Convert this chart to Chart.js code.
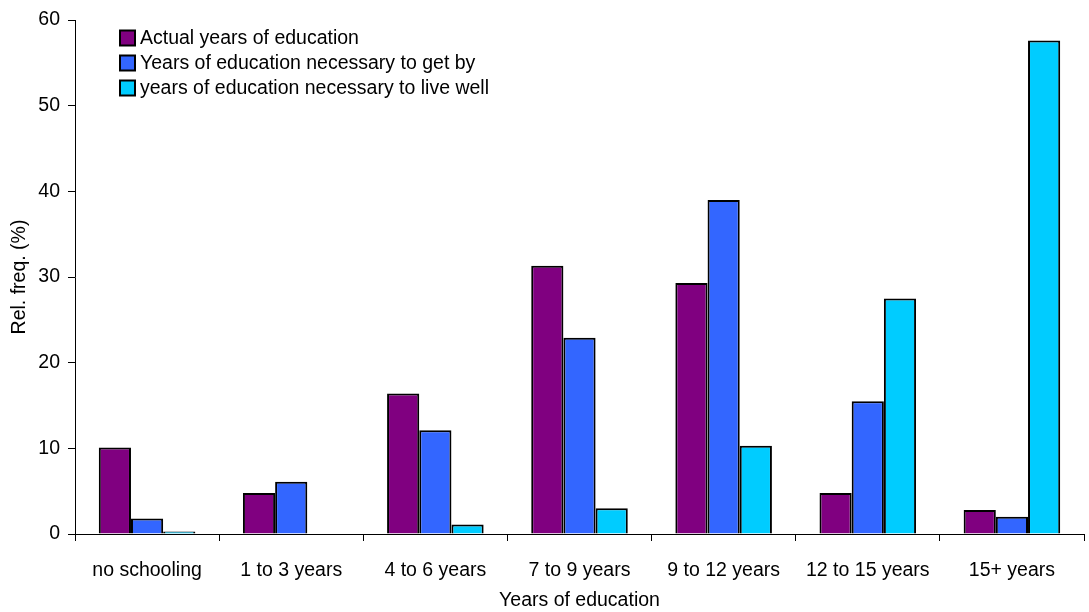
<!DOCTYPE html>
<html>
<head>
<meta charset="utf-8">
<script src="https://cdn.jsdelivr.net/npm/chart.js@4/dist/chart.umd.min.js"></script>
<style>
  html, body { margin: 0; padding: 0; background: #fff; }
  #wrap { width: 1089px; height: 612px; }
</style>
</head>
<body>
<div id="wrap"><canvas id="edu-chart"></canvas></div>
<script>
const categories = ["no schooling", "1 to 3 years", "4 to 6 years", "7 to 9 years", "9 to 12 years", "12 to 15 years", "15+ years"];
const actualYears = [10.1, 4.8, 16.4, 31.3, 29.3, 4.8, 2.8];
const getByYears = [1.8, 6.1, 12.1, 22.9, 39.0, 15.5, 2.0];
const liveWellYears = [0.3, 0.05, 1.1, 3.0, 10.3, 27.5, 57.6];
const yTicks = [0, 10, 20, 30, 40, 50, 60];

const fontFamily = "'Liberation Sans Narrow', 'Liberation Sans', Arial, sans-serif";
const fontSize = 19.5;

// legend drawn inside the plot, top-left, like the original
const innerLegend = {
    id: 'innerLegend',
    afterDraw(chart) {
        const ctx = chart.ctx;
        const x = chart.chartArea.left + 45;
        let y = 38;
        ctx.save();
        ctx.font = fontSize + "px " + fontFamily;
        ctx.textBaseline = 'middle';
        chart.data.datasets.forEach(ds => {
            ctx.fillStyle = ds.backgroundColor;
            ctx.fillRect(x, y - 7.5, 15, 15);
            ctx.strokeStyle = '#000';
            ctx.lineWidth = 2;
            ctx.strokeRect(x, y - 7.5, 15, 15);
            ctx.fillStyle = '#000';
            ctx.fillText(ds.label, x + 20, y + 1);
            y += 25;
        });
        ctx.restore();
    }
};

let eduData = {
    labels: categories,
    datasets: [{
        label: 'Actual years of education',
        data: actualYears,
        backgroundColor: '#800080',
        borderColor: '#000',
        borderWidth: 2
    }, {
        label: 'Years of education necessary to get by',
        data: getByYears,
        backgroundColor: '#3366FF',
        borderColor: '#000',
        borderWidth: 2
    }, {
        label: 'years of education necessary to live well',
        data: liveWellYears,
        backgroundColor: '#00CCFF',
        borderColor: '#000',
        borderWidth: 2
    }]
};

let eduOptions = {
    responsive: true,
    maintainAspectRatio: false,
    animation: { duration: 0 },
    layout: { padding: { top: 20, right: 5, left: 0, bottom: 0 } },
    datasets: {
        bar: { categoryPercentage: 0.67, barPercentage: 1.0 }
    },
    plugins: {
        legend: { display: false },
        tooltip: { enabled: false }
    },
    scales: {
        x: {
            grid: {
                offset: true,
                drawOnChartArea: false,
                color: '#000',
                tickLength: 7,
                tickColor: '#000'
            },
            border: { color: '#000', width: 1 },
            ticks: {
                color: '#000',
                font: { family: fontFamily, size: fontSize },
                padding: 18,
                maxRotation: 0
            },
            title: {
                display: true,
                text: 'Years of education',
                color: '#000',
                font: { family: fontFamily, size: fontSize },
                padding: { top: 0, bottom: 0 }
            },
            afterFit(scale) { scale.height = 78; }
        },
        y: {
            min: 0,
            max: 60,
            afterBuildTicks(scale) { scale.ticks = yTicks.map(v => ({ value: v })); },
            grid: {
                drawOnChartArea: false,
                color: '#000',
                tickLength: 7,
                tickColor: '#000'
            },
            border: { color: '#000', width: 1 },
            ticks: {
                color: '#000',
                font: { family: fontFamily, size: fontSize },
                padding: 8
            },
            title: {
                display: true,
                text: 'Rel. freq. (%)',
                color: '#000',
                font: { family: fontFamily, size: fontSize },
                padding: { top: 8, bottom: 0 }
            },
            afterFit(scale) { scale.width = 75; }
        }
    }
};

let eduChart = new Chart(document.getElementById('edu-chart'), {
    type: 'bar',
    data: eduData,
    options: eduOptions,
    plugins: [innerLegend]
});
</script>
</body>
</html>
